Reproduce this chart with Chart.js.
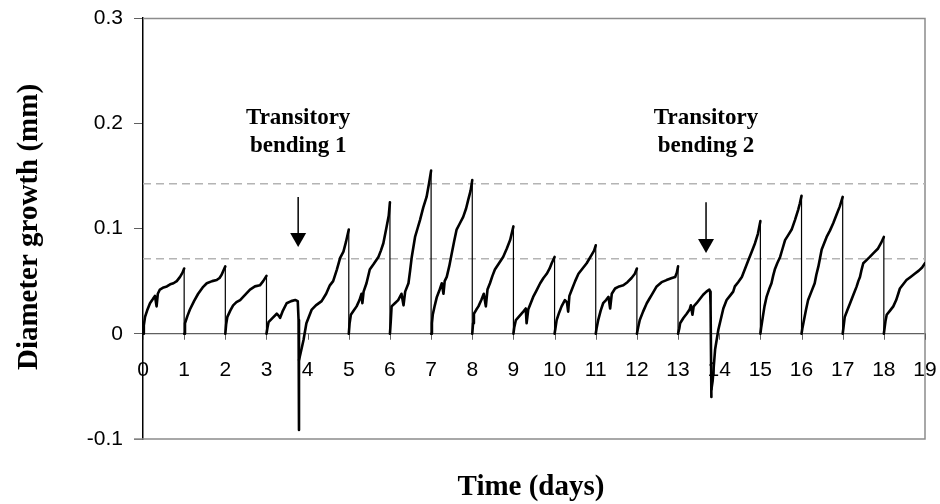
<!DOCTYPE html>
<html>
<head>
<meta charset="utf-8">
<script src="https://cdn.jsdelivr.net/npm/chart.js@4/dist/chart.umd.min.js"></script>
<style>
  html, body { margin: 0; padding: 0; background: #fff; }
  #wrap { width: 940px; height: 504px; position: relative; }
</style>
</head>
<body>
<div id="wrap"><canvas id="c" width="940" height="504"></canvas></div>
<script>
// ---- Data ----
const timeDays = [
  0,0.02,0.05,0.1,0.17,0.24,0.29,0.33,0.36,0.41,0.5,0.58,0.66,0.74,0.82,0.9,0.96,1.0,1.0,
  1.02,1.08,1.14,1.24,1.34,1.45,1.55,1.68,1.79,1.86,1.91,2.0,2.0,
  2.02,2.05,2.12,2.19,2.27,2.36,2.48,2.6,2.72,2.84,2.92,3.0,3.0,
  3.03,3.05,3.15,3.25,3.3,3.33,3.4,3.49,3.6,3.7,3.76,3.78,3.79,3.79,3.82,3.9,3.97,4.05,4.1,4.2,4.34,4.45,4.54,4.62,4.71,4.79,4.87,4.93,5.0,5.0,
  5.02,5.05,5.12,5.19,5.26,5.31,5.33,5.36,5.43,5.51,5.6,5.72,5.78,5.84,5.92,5.97,6.0,6.0,
  6.02,6.04,6.12,6.2,6.28,6.33,6.37,6.45,6.49,6.53,6.61,6.67,6.73,6.81,6.89,6.95,7.0,7.0,
  7.02,7.04,7.09,7.14,7.2,7.26,7.3,7.33,7.38,7.44,7.5,7.56,7.62,7.7,7.78,7.85,7.9,7.96,8.0,8.0,
  8.02,8.04,8.1,8.15,8.22,8.28,8.33,8.37,8.43,8.49,8.55,8.65,8.75,8.84,8.92,9.0,9.0,
  9.02,9.06,9.15,9.24,9.3,9.32,9.36,9.42,9.48,9.56,9.65,9.73,9.81,9.88,9.93,10.0,10.0,
  10.02,10.05,10.11,10.17,10.25,10.3,10.33,10.36,10.42,10.5,10.58,10.68,10.78,10.9,10.96,11.0,11.0,
  11.02,11.06,11.12,11.18,11.25,11.31,11.35,11.39,11.47,11.57,11.67,11.77,11.87,11.95,12.0,12.0,
  12.03,12.07,12.15,12.24,12.3,12.36,12.42,12.48,12.6,12.72,12.85,12.93,12.97,13.0,13.0,
  13.03,13.05,13.13,13.21,13.28,13.31,13.35,13.38,13.45,13.53,13.61,13.69,13.76,13.78,13.79,13.81,13.81,13.84,13.87,13.9,13.98,14.04,14.1,14.18,14.26,14.34,14.38,14.46,14.55,14.63,14.71,14.79,14.87,14.94,15.0,15.0,
  15.02,15.06,15.1,15.15,15.21,15.27,15.31,15.35,15.41,15.48,15.54,15.6,15.68,15.76,15.84,15.92,15.96,16.0,16.0,
  16.02,16.06,16.11,16.16,16.24,16.32,16.36,16.41,16.45,16.49,16.55,16.61,16.69,16.77,16.85,16.93,17.0,17.0,
  17.02,17.05,17.11,17.18,17.26,17.34,17.38,17.42,17.46,17.5,17.58,17.66,17.76,17.86,17.93,18.0,18.0,
  18.02,18.04,18.07,18.15,18.23,18.3,18.35,18.39,18.47,18.55,18.65,18.75,18.85,18.93,19.0
];
const growthMm = [
  0,0.008,0.016,0.022,0.029,0.033,0.036,0.026,0.038,0.042,0.044,0.045,0.047,0.048,0.050,0.054,0.058,0.062,0,
  0.010,0.017,0.023,0.031,0.038,0.044,0.048,0.050,0.051,0.053,0.056,0.064,0,
  0.009,0.016,0.022,0.027,0.030,0.032,0.037,0.042,0.045,0.046,0.050,0.055,0,
  0.007,0.011,0.015,0.019,0.017,0.015,0.022,0.029,0.031,0.032,0.031,0.013,-0.0915,-0.025,-0.020,-0.006,0.010,0.018,0.023,0.027,0.031,0.038,0.046,0.050,0.061,0.072,0.078,0.087,0.099,0,
  0.010,0.018,0.022,0.026,0.032,0.038,0.029,0.040,0.048,0.061,0.066,0.073,0.079,0.086,0.102,0.112,0.125,0,
  0.012,0.026,0.029,0.032,0.038,0.027,0.040,0.048,0.060,0.073,0.092,0.100,0.108,0.120,0.130,0.143,0.155,0,
  0.010,0.018,0.027,0.035,0.041,0.048,0.038,0.050,0.054,0.064,0.076,0.088,0.099,0.105,0.111,0.119,0.127,0.136,0.146,0,
  0.010,0.019,0.023,0.026,0.032,0.038,0.026,0.042,0.048,0.055,0.061,0.067,0.073,0.081,0.089,0.102,0,
  0.006,0.013,0.017,0.021,0.024,0.010,0.023,0.029,0.035,0.041,0.048,0.053,0.057,0.062,0.067,0.073,0,
  0.005,0.013,0.020,0.026,0.032,0.030,0.021,0.036,0.042,0.050,0.057,0.062,0.067,0.075,0.079,0.084,0,
  0.005,0.013,0.022,0.029,0.032,0.035,0.024,0.038,0.043,0.045,0.046,0.049,0.053,0.057,0.062,0,
  0.006,0.013,0.021,0.029,0.033,0.037,0.041,0.045,0.049,0.051,0.053,0.054,0.058,0.064,0,
  0.005,0.010,0.015,0.019,0.023,0.027,0.018,0.026,0.029,0.033,0.037,0.040,0.042,0.040,0.027,-0.060,-0.053,-0.045,-0.030,-0.015,0.004,0.014,0.024,0.032,0.036,0.040,0.045,0.049,0.054,0.062,0.070,0.078,0.086,0.095,0.107,0,
  0.006,0.016,0.026,0.035,0.042,0.048,0.055,0.061,0.067,0.073,0.081,0.089,0.094,0.099,0.108,0.118,0.124,0.131,0,
  0.005,0.013,0.023,0.032,0.040,0.048,0.056,0.064,0.072,0.080,0.086,0.092,0.098,0.105,0.113,0.121,0.130,0,
  0.006,0.016,0.022,0.029,0.037,0.045,0.050,0.054,0.061,0.067,0.070,0.073,0.077,0.081,0.086,0.092,0,
  0.006,0.012,0.018,0.022,0.026,0.032,0.038,0.043,0.047,0.051,0.054,0.057,0.060,0.063,0.067
];
const referenceLevels = [0.0712, 0.1425];
const xTickValues = [0,1,2,3,4,5,6,7,8,9,10,11,12,13,14,15,16,17,18,19];
const xTickLabels = ['0','1','2','3','4','5','6','7','8','9','10','11','12','13','14','15','16','17','18','19'];
const yTickValues = [-0.1, 0, 0.1, 0.2, 0.3];
const yTickLabels = ['-0.1', '0', '0.1', '0.2', '0.3'];
const xTitle = 'Time (days)';
const yTitle = 'Diameter growth (mm)';
const eventLabels = [['Transitory', 'bending 1'], ['Transitory', 'bending 2']];
const eventDays = [3.77, 13.68];

// ---- Build datasets ----
const growthPoints = timeDays.map((t, i) => ({ x: t, y: growthMm[i] }));
const refDatasets = referenceLevels.map(v => ({
  data: [{ x: xTickValues[0], y: v }, { x: xTickValues[xTickValues.length - 1], y: v }],
  borderColor: '#b4b4b4', borderWidth: 1.5, borderDash: [8, 5],
  pointRadius: 0, fill: false, order: 2
}));

const decorPlugin = {
  id: 'decor',
  beforeDatasetsDraw(chart) {
    const { ctx, chartArea: a, scales } = chart;
    ctx.save();
    ctx.strokeStyle = '#8c8c8c';
    ctx.lineWidth = 1.5;
    ctx.beginPath();
    ctx.moveTo(a.left, a.top + 0.5); ctx.lineTo(a.right, a.top + 0.5);
    ctx.lineTo(a.right, a.bottom); ctx.lineTo(a.left - 9, a.bottom);
    ctx.stroke();
    // x tick marks hanging below the zero line
    const y0 = scales.y.getPixelForValue(0);
    ctx.strokeStyle = '#606060';
    ctx.lineWidth = 1;
    xTickValues.forEach(v => {
      const px = Math.round(scales.x.getPixelForValue(v)) + 0.5;
      ctx.beginPath(); ctx.moveTo(px, y0); ctx.lineTo(px, y0 + 6); ctx.stroke();
    });
    ctx.restore();
  },
  afterDraw(chart) {
    const { ctx, chartArea: a, scales } = chart;
    const xs = scales.x, ys = scales.y;
    ctx.save();
    // event annotations
    const textY = [0.1993, 0.173];
    const arrowTop = [0.130, 0.125], arrowTip = [0.0824, 0.0767];
    eventDays.forEach((d, i) => {
      const px = xs.getPixelForValue(d);
      ctx.fillStyle = '#000';
      ctx.font = 'bold 23px "Liberation Serif", "Times New Roman", serif';
      ctx.textAlign = 'center';
      ctx.textBaseline = 'alphabetic';
      eventLabels[i].forEach((line, j) => ctx.fillText(line, px, ys.getPixelForValue(textY[j])));
      const top = ys.getPixelForValue(arrowTop[i]);
      const tip = ys.getPixelForValue(arrowTip[i]);
      ctx.strokeStyle = '#000';
      ctx.lineWidth = 1.5;
      ctx.beginPath(); ctx.moveTo(px, top); ctx.lineTo(px, tip - 12); ctx.stroke();
      ctx.beginPath(); ctx.moveTo(px - 8, tip - 14); ctx.lineTo(px + 8, tip - 14); ctx.lineTo(px, tip); ctx.closePath(); ctx.fill();
    });
    // axis titles
    ctx.font = 'bold 29px "Liberation Serif", "Times New Roman", serif';
    ctx.textAlign = 'center';
    ctx.textBaseline = 'alphabetic';
    ctx.fillText(xTitle, (a.left + a.right) / 2 - 3, 495);
    ctx.translate(37, 227);
    ctx.rotate(-Math.PI / 2);
    ctx.fillText(yTitle, 0, 0);
    ctx.restore();
  }
};

new Chart(document.getElementById('c'), {
  type: 'line',
  data: {
    datasets: [
      {
        data: growthPoints,
        borderColor: '#000', borderWidth: 2.6, pointRadius: 0, tension: 0, fill: false, order: 1,
        borderJoinStyle: 'round', borderCapStyle: 'round',
        segment: {
          borderWidth: c => (Math.abs(c.p0.parsed.x - c.p1.parsed.x) < 1e-9 ? 1.2 : 2.6)
        }
      },
      ...refDatasets
    ]
  },
  options: {
    responsive: false,
    animation: false,
    devicePixelRatio: 1,
    layout: { padding: { left: 0, right: 15, top: 18, bottom: 65 } },
    plugins: { legend: { display: false }, tooltip: { enabled: false } },
    scales: {
      x: {
        type: 'linear',
        position: { y: 0 },
        min: 0, max: 19,
        afterBuildTicks: s => { s.ticks = xTickValues.map(v => ({ value: v })); },
        ticks: {
          callback: (v, i) => xTickLabels[i],
          color: '#000', padding: 3, maxRotation: 0, autoSkip: false,
          font: { family: '"Liberation Sans", Arial, sans-serif', size: 21 }
        },
        grid: { drawOnChartArea: false, drawTicks: true, tickLength: 20.5, tickColor: 'rgba(0,0,0,0)' },
        border: { display: true, color: '#606060', width: 1.2 }
      },
      y: {
        type: 'linear',
        position: 'left',
        min: -0.1, max: 0.3,
        afterBuildTicks: s => { s.ticks = yTickValues.map(v => ({ value: v })); },
        afterFit: s => { s.width = 143; },
        ticks: {
          callback: (v, i) => yTickLabels[i],
          color: '#000', padding: 11,
          font: { family: '"Liberation Sans", Arial, sans-serif', size: 21, lineHeight: 0.5 }
        },
        grid: { drawOnChartArea: false, drawTicks: true, tickLength: 9, color: '#606060', lineWidth: 1 },
        border: { display: true, color: '#000', width: 1.5 }
      }
    }
  },
  plugins: [decorPlugin]
});
</script>
</body>
</html>
